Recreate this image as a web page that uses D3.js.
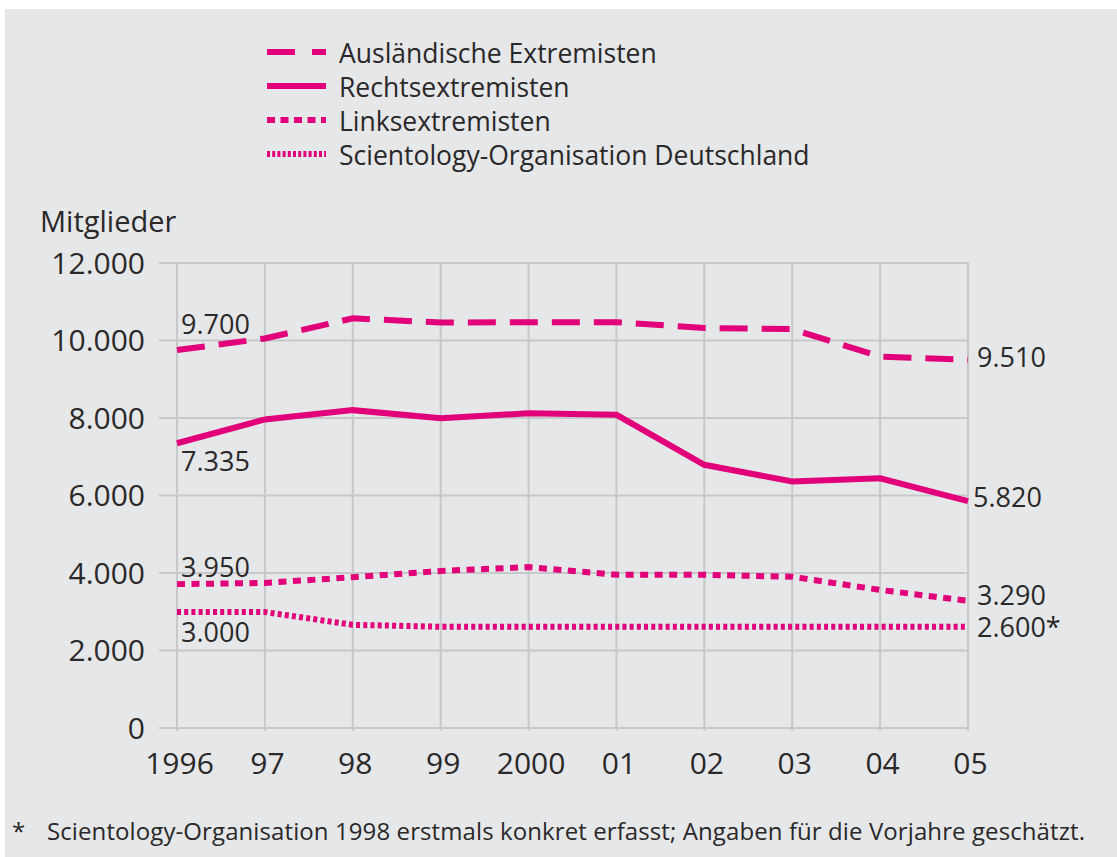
<!DOCTYPE html>
<html>
<head>
<meta charset="utf-8">
<script src="https://cdn.jsdelivr.net/npm/d3@7"></script>
<style>
  body { margin: 0; background: #fff; }
  svg { display: block; font-family: "Open Sans", sans-serif; }
</style>
</head>
<body>
<svg width="1117" height="857"></svg>
<script>
// Mitglieder extremistischer Organisationen 1996-2005
const years = ["1996", "97", "98", "99", "2000", "01", "02", "03", "04", "05"];
const auslaender = [9740, 10040, 10560, 10450, 10460, 10460, 10310, 10280, 9570, 9490];
const rechts = [7335, 7950, 8190, 7980, 8110, 8070, 6780, 6350, 6430, 5840];
const links = [3700, 3730, 3880, 4040, 4140, 3940, 3940, 3890, 3550, 3270];
const scientology = [2980, 2980, 2650, 2600, 2600, 2600, 2600, 2600, 2600, 2600];
const seriesNames = ["Ausländische Extremisten", "Rechtsextremisten", "Linksextremisten", "Scientology-Organisation Deutschland"];
const startLabels = ["9.700", "7.335", "3.950", "3.000"];
const endLabels = ["9.510", "5.820", "3.290", "2.600*"];
const yTicks = [0, 2000, 4000, 6000, 8000, 10000, 12000];
const yTitle = "Mitglieder";
const footnote = "Scientology-Organisation 1998 erstmals konkret erfasst; Angaben für die Vorjahre geschätzt.";

const magenta = "#e2007a";
const gridColor = "#c7c8ca";
const textColor = "#2a2829";

// stroke styles per series: dash in chart, dash in legend, label offsets
const styles = [
    {dash: "28,14", legendDash: "28,17", start: -16, endDx: 9, endDy: 7},
    {dash: null, legendDash: null, start: 28, endDx: 5, endDy: 6},
    {dash: "8,6.5", legendDash: "8,5.5", start: -7, endDx: 9, endDy: 4},
    {dash: "4,3.2", legendDash: "3,2.2", start: 30, endDx: 9, endDy: 10}
];

const svg = d3.select("svg");

svg.append("rect")
    .attr("x", 5).attr("y", 9)
    .attr("width", 1112).attr("height", 848)
    .attr("fill", "#e6e7e8");

const x = d3.scalePoint()
    .domain(years)
    .range([177, 968]);

const y = d3.scaleLinear()
    .domain([0, 12000])
    .range([727.5, 262.5]);

const de = d3.formatLocale({decimal: ",", thousands: ".", grouping: [3], currency: ["", "€"]});
const fmt = de.format(",");

// gridlines
svg.append("g")
    .selectAll("line")
    .data(years).enter()
    .append("line")
    .attr("x1", d => x(d)).attr("x2", d => x(d))
    .attr("y1", y(12000)).attr("y2", y(0) + 3.5)
    .attr("stroke", gridColor)
    .attr("stroke-width", 2);

const yAxis = d3.axisLeft(y)
    .tickValues(yTicks)
    .tickSize(-(x(years[years.length - 1]) - 159))
    .tickPadding(14)
    .tickFormat(fmt);

const ya = svg.append("g")
    .attr("transform", "translate(159,0)")
    .call(yAxis);
ya.select(".domain").remove();
ya.selectAll("line").attr("stroke", gridColor).attr("stroke-width", 2);
ya.selectAll("text")
    .attr("fill", textColor)
    .attr("font-family", "'Open Sans', sans-serif")
    .attr("font-size", 30)
    .attr("dy", "0.36em");

const xAxis = d3.axisBottom(x).tickSize(0).tickPadding(0);
const xa = svg.append("g")
    .attr("transform", "translate(0," + y(0) + ")")
    .call(xAxis);
xa.select(".domain").remove();
xa.selectAll("text")
    .attr("fill", textColor)
    .attr("font-family", "'Open Sans', sans-serif")
    .attr("font-size", 30)
    .attr("dx", 2)
    .attr("y", 46.5)
    .attr("dy", 0);

svg.append("text")
    .attr("x", 40).attr("y", 232)
    .attr("fill", textColor)
    .attr("font-size", 29)
    .text(yTitle);

// lines
const allSeries = [auslaender, rechts, links, scientology];

const line = d3.line()
    .x((d, i) => x(years[i]))
    .y(d => y(d));

svg.append("g")
    .selectAll("path")
    .data(allSeries).enter()
    .append("path")
    .attr("d", d => line(d))
    .attr("fill", "none")
    .attr("stroke", magenta)
    .attr("stroke-width", 6)
    .attr("stroke-dasharray", (d, i) => styles[i].dash);

// value labels
const lab = svg.append("g")
    .attr("fill", textColor)
    .attr("font-size", 27);

lab.selectAll(".start")
    .data(allSeries).enter()
    .append("text")
    .attr("class", "start")
    .attr("x", x(years[0]) + 4)
    .attr("y", (d, i) => y(d[0]) + styles[i].start)
    .text((d, i) => startLabels[i]);

lab.selectAll(".end")
    .data(allSeries).enter()
    .append("text")
    .attr("class", "end")
    .attr("x", (d, i) => x(years[years.length - 1]) + styles[i].endDx)
    .attr("y", (d, i) => y(d[d.length - 1]) + styles[i].endDy)
    .text((d, i) => endLabels[i]);

// legend
const legend = svg.append("g")
    .selectAll("g")
    .data(seriesNames).enter()
    .append("g")
    .attr("transform", (d, i) => "translate(267," + (52 + i * 34) + ")");

legend.append("line")
    .attr("x1", 0).attr("x2", 59)
    .attr("stroke", magenta)
    .attr("stroke-width", 6)
    .attr("stroke-dasharray", (d, i) => styles[i].legendDash);

legend.append("text")
    .attr("x", 72).attr("y", 11)
    .attr("fill", textColor)
    .attr("font-size", 26.5)
    .text(d => d);

// footnote
svg.append("text")
    .attr("x", 12).attr("y", 840)
    .attr("fill", textColor)
    .attr("font-size", 24)
    .text("*");

svg.append("text")
    .attr("x", 47).attr("y", 840)
    .attr("fill", textColor)
    .attr("font-size", 24)
    .attr("textLength", 1038)
    .text(footnote);
</script>
</body>
</html>
